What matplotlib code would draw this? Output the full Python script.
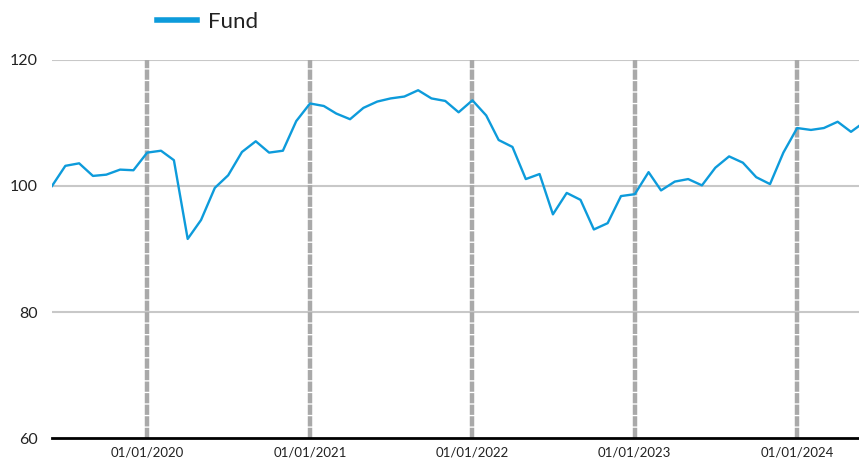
import matplotlib
matplotlib.use("Agg")
import matplotlib.pyplot as plt
from matplotlib.lines import Line2D
import pandas as pd

start_month = "2019-06-01"
fund_values = [
    100.0, 103.2, 103.6, 101.6, 101.8, 102.6, 102.5,   # Jun-Dec 2019
    105.3, 105.6, 104.1, 91.6, 94.6, 99.7, 101.7, 105.4, 107.1, 105.3, 105.6, 110.3,  # 2020
    113.1, 112.7, 111.5, 110.6, 112.4, 113.4, 113.9, 114.2, 115.2, 113.9, 113.5, 111.7,  # 2021
    113.6, 111.2, 107.3, 106.2, 101.1, 101.9, 95.5, 98.9, 97.8, 93.1, 94.1, 98.4,  # 2022
    98.7, 102.2, 99.3, 100.7, 101.1, 100.1, 102.9, 104.7, 103.7, 101.4, 100.3, 105.3,  # 2023
    109.2, 108.9, 109.2, 110.2, 108.6, 110.2,  # Jan-Jun 2024
]
dates = pd.date_range(start_month, periods=len(fund_values), freq="MS")
year_marks = pd.to_datetime(["2020-01-01", "2021-01-01", "2022-01-01", "2023-01-01", "2024-01-01"])
tick_labels = ["01/01/2020", "01/01/2021", "01/01/2022", "01/01/2023", "01/01/2024"]
y_ticks = [60, 80, 100, 120]
series_name = "Fund"

plt.rcParams["font.family"] = ["Lato", "DejaVu Sans"]

fig = plt.figure(figsize=(8.59, 4.62), dpi=100)
ax = fig.add_axes([52 / 859, 24 / 462, 807 / 859, 378 / 462])

for yv in y_ticks[1:]:
    ax.axhline(yv, color="#c8c8c8", lw=1.5, zorder=1)

for d in year_marks:
    ax.axvline(d, color="#a9a9a9", lw=3.2, linestyle=(0, (2.3, 0.3)), zorder=2)

line, = ax.plot(dates, fund_values, color="#0d9bdb", lw=1.7, zorder=3, label=series_name)

ax.set_ylim(60, 120)
ax.set_xlim(pd.Timestamp("2019-06-01"), pd.Timestamp("2024-05-19"))
ax.set_yticks(y_ticks)
ax.set_xticks(year_marks)
ax.set_xticklabels(tick_labels)

for s in ["left", "right", "top"]:
    ax.spines[s].set_visible(False)
ax.spines["bottom"].set_color("black")
ax.spines["bottom"].set_linewidth(2)
ax.spines["bottom"].set_zorder(4)
ax.tick_params(axis="both", length=0, colors="#222222")
ax.tick_params(axis="y", labelsize=11.5, pad=10)
ax.tick_params(axis="x", labelsize=9.5, pad=6)

handle = Line2D([0], [0], color="#0d9bdb", lw=4)
leg = fig.legend([handle], [series_name], loc="center", bbox_to_anchor=(208 / 859, 1 - 22 / 462),
                 frameon=False, handlelength=1.8, handletextpad=0.5, prop={"size": 16})
for t in leg.get_texts():
    t.set_color("#222222")

fig.savefig("out.png", dpi=100, facecolor="white")
